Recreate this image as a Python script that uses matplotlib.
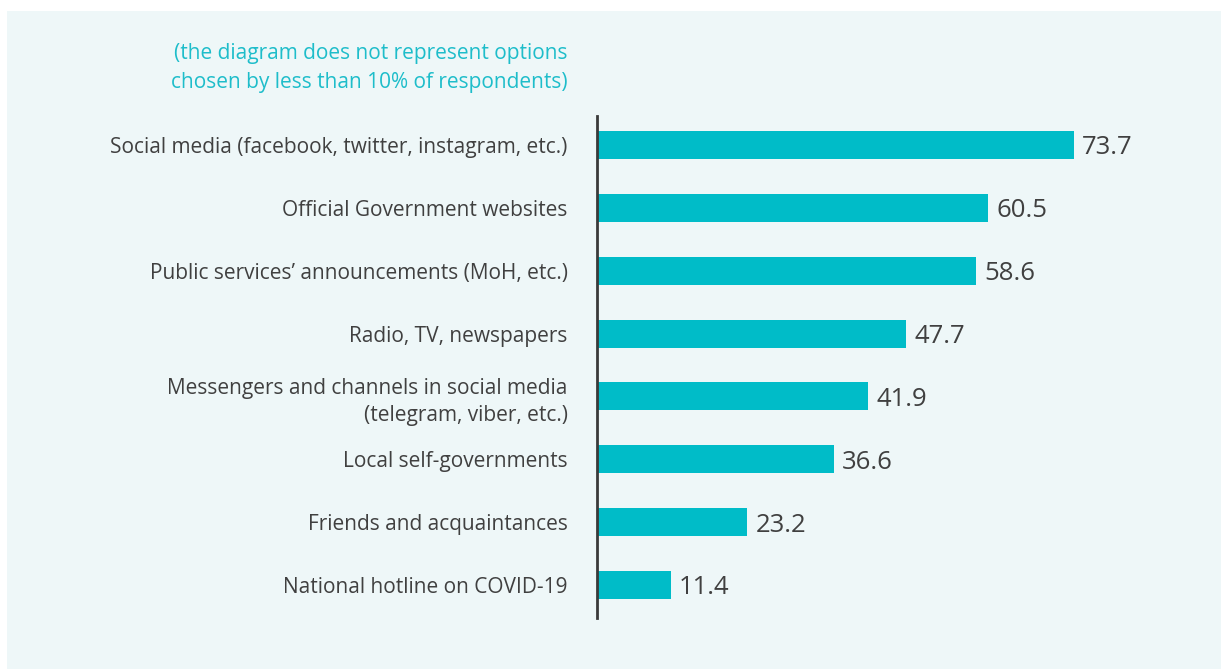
import matplotlib.pyplot as plt
from matplotlib.patches import Rectangle

# data
categories = ['Social media (facebook, twitter, instagram, etc.)',
              'Official Government websites',
              'Public services\u2019 announcements (MoH, etc.)',
              'Radio, TV, newspapers',
              'Messengers and channels in social media\n(telegram, viber, etc.)',
              'Local self-governments',
              'Friends and acquaintances',
              'National hotline on COVID-19']
values = [73.7, 60.5, 58.6, 47.7, 41.9, 36.6, 23.2, 11.4]
note = '(the diagram does not represent options\nchosen by less than 10% of respondents)'

W, H = 1221, 669
bar_color = '#00bcc8'
text_color = '#404040'
bg = '#eef7f8'

plt.rcParams['font.family'] = ['Open Sans', 'DejaVu Sans']

fig = plt.figure(figsize=(W / 100, H / 100), dpi=100)
fig.patch.set_facecolor('white')
fig.patches.append(Rectangle((7 / W, 0), 1 - 7 / W, (H - 11) / H,
                             transform=fig.transFigure, facecolor=bg,
                             edgecolor='none', zorder=-1))

ax = fig.add_axes([597 / W, (H - 618) / H, (1200 - 597) / W, (618 - 116) / H])
ax.set_facecolor('none')

pos = list(range(len(categories)))
ax.barh(pos, values, height=0.445, color=bar_color)
for p, v in zip(pos, values):
    ax.text(v + 1.3, p, f'{v:.1f}', va='center_baseline', ha='left',
            fontsize=18.5, color=text_color)

ax.set_xlim(0, 93.2)
ax.set_ylim(7.525, -0.461)
ax.set_yticks(pos)
ax.set_yticklabels(categories, fontsize=15, color=text_color,
                   ha='right', multialignment='right')
for lbl in ax.get_yticklabels():
    lbl.set_linespacing(1.4)
ax.tick_params(axis='y', length=0, pad=21)
ax.set_xticks([])
for s in ['top', 'right', 'bottom']:
    ax.spines[s].set_visible(False)
ax.spines['left'].set_color('#3a3a3a')
ax.spines['left'].set_linewidth(2)

fig.text(568 / W, 1 - 68 / H, note, ha='right', va='center',
         fontsize=15, color='#1ebdca', linespacing=1.55,
         multialignment='right')

fig.savefig('out.png', dpi=100, facecolor=fig.get_facecolor())
